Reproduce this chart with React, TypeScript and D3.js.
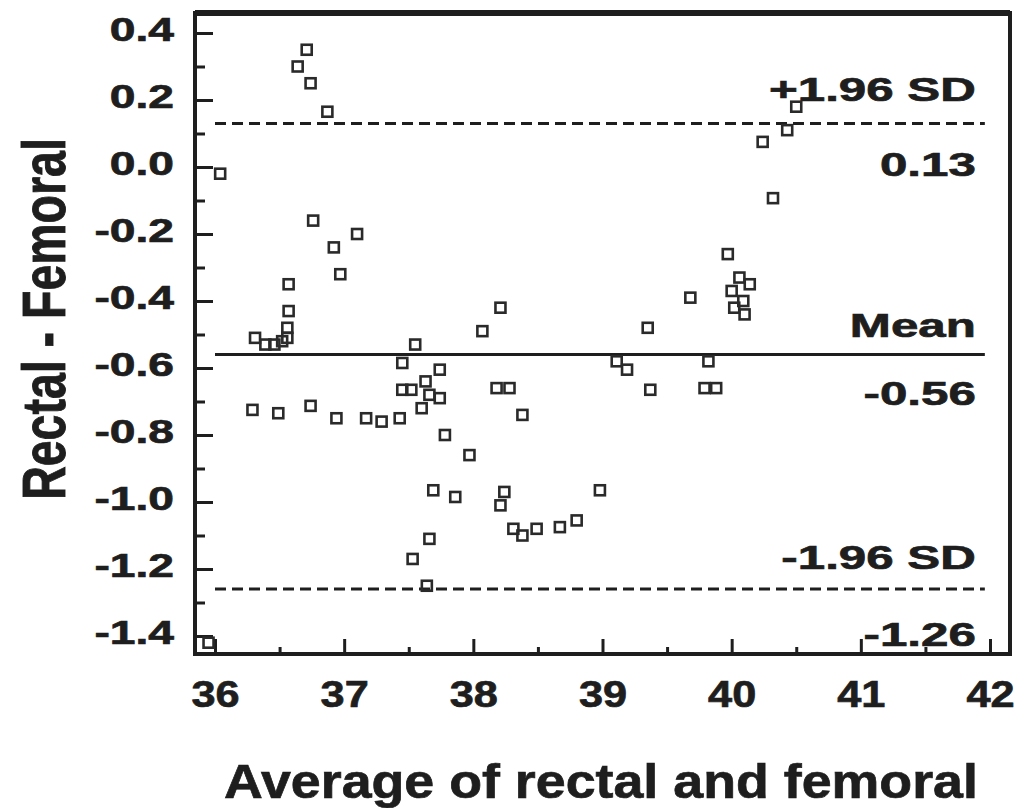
import React, { useEffect, useRef } from 'react';
import * as d3 from 'd3';

// Bland-Altman: average of rectal and femoral vs difference
const averageValues = [
  36.04, 36.71, 36.64, 36.74, 36.87, 36.76, 37.10, 36.92, 36.97, 36.57,
  36.57, 36.56, 36.56, 36.31, 36.39, 36.46, 36.52, 36.29, 36.49, 36.74,
  36.94, 37.17, 37.29, 37.43, 37.45, 37.55, 37.45, 37.52, 37.60, 37.63,
  37.66, 37.74, 37.74, 37.78, 37.97, 37.69, 37.86, 37.66, 37.53, 37.64,
  38.21, 38.07, 38.18, 38.28, 38.24, 38.21, 38.31, 38.38, 38.49, 38.67,
  38.80, 38.98, 38.38, 39.11, 39.19, 39.37, 39.35, 39.68, 39.82, 39.79,
  39.88, 39.97, 40.06, 40.14, 40.00, 40.09, 40.02, 40.10, 40.24, 40.43,
  40.50, 40.32, 35.95
];
const differenceValues = [
  -0.02, 0.35, 0.30, 0.25, 0.165, -0.16, -0.20, -0.24, -0.32, -0.35,
  -0.43, -0.48, -0.51, -0.51, -0.53, -0.53, -0.52, -0.725, -0.735, -0.713,
  -0.75, -0.75, -0.76, -0.75, -0.585, -0.53, -0.665, -0.665, -0.72, -0.64,
  -0.68, -0.605, -0.69, -0.80, -0.86, -0.965, -0.985, -1.11, -1.17, -1.25,
  -0.42, -0.49, -0.66, -0.66, -0.97, -1.01, -1.08, -1.10, -1.08, -1.075,
  -1.055, -0.965, -0.74, -0.58, -0.605, -0.665, -0.48, -0.39, -0.58, -0.66,
  -0.66, -0.26, -0.33, -0.35, -0.37, -0.40, -0.42, -0.44, 0.075, 0.11,
  0.18, -0.093, -1.42
];

const meanDiff = -0.56;
const upperLimit = 0.13;
const lowerLimit = -1.26;

const xTicks = [36, 37, 38, 39, 40, 41, 42];
const xMinorTicks = [36.5, 37.5, 38.5, 39.5, 40.5, 41.5];
const yTicks = [0.4, 0.2, 0, -0.2, -0.4, -0.6, -0.8, -1.0, -1.2, -1.4];
const yMinorTicks = [0.3, 0.1, -0.1, -0.3, -0.5, -0.7, -0.9, -1.1, -1.3];

const BlandAltman = () => {
  const svgRef = useRef(null);

  useEffect(() => {
    const svg = d3.select(svgRef.current);
    svg.selectAll('*').remove();

    const W = 1027, H = 808;
    const box = { left: 195, top: 13, right: 1010, bottom: 654 };
    const ink = '#1e1e1e';
    const font = '"Liberation Sans", Arial, sans-serif';

    const x = d3.scaleLinear().domain([36, 42]).range([215, 990]);
    const y = d3.scaleLinear().domain([-1.4, 0.4]).range([636, 33]);

    svg.attr('width', W).attr('height', H);
    svg.append('rect').attr('width', W).attr('height', H).attr('fill', '#fff');

    svg.append('defs').append('clipPath').attr('id', 'plotClip')
      .append('rect')
      .attr('x', box.left).attr('y', box.top)
      .attr('width', box.right - box.left).attr('height', box.bottom - box.top);

    const boldText = (sel, size) => sel
      .attr('fill', ink)
      .attr('stroke', ink).attr('stroke-width', 0.7)
      .style('font-family', font)
      .style('font-weight', 'bold')
      .style('font-size', size + 'px');

    // the source picture is stretched sideways, so text is widened with scaleX
    const styleAxis = (g, size, sx) => {
      g.select('.domain').remove();
      g.selectAll('line').attr('stroke', ink).attr('stroke-width', 3);
      g.selectAll('text').call(s => boldText(s, size)).each(function () {
        const t = d3.select(this);
        const tx = +t.attr('x') || 0;
        t.attr('x', 0).attr('transform', `translate(${tx},0) scale(${sx},1)`);
      });
    };

    // y axis (ticks point inward)
    svg.append('g').attr('transform', `translate(${box.left},0)`)
      .call(d3.axisLeft(y).tickValues(yTicks).tickSize(-18).tickPadding(21)
        .tickFormat(d => (+d).toFixed(1)))
      .call(g => styleAxis(g, 33, 1.4))
      .call(g => g.selectAll('text').attr('dy', '0.22em'));
    svg.append('g').attr('transform', `translate(${box.left},0)`)
      .call(d3.axisLeft(y).tickValues(yMinorTicks).tickSize(-10).tickFormat(() => ''))
      .call(g => styleAxis(g, 10, 1));

    // x axis
    svg.append('g').attr('transform', `translate(0,${box.bottom})`)
      .call(d3.axisBottom(x).tickValues(xTicks).tickSize(-15).tickPadding(27)
        .tickFormat(d => String(d)))
      .call(g => styleAxis(g, 37, 1.17));
    svg.append('g').attr('transform', `translate(0,${box.bottom})`)
      .call(d3.axisBottom(x).tickValues(xMinorTicks).tickSize(-7).tickFormat(() => ''))
      .call(g => styleAxis(g, 10, 1));

    // reference lines
    const lineEnd = x(41.96);
    const refs = [
      { v: upperLimit, dash: '11,6', top: '+1.96 SD', bottom: upperLimit.toFixed(2), up: 22, down: 53 },
      { v: meanDiff, dash: null, top: 'Mean', bottom: meanDiff.toFixed(2), up: 18, down: 50 },
      { v: lowerLimit, dash: '11,6', top: '-1.96 SD', bottom: lowerLimit.toFixed(2), up: 20, down: 57 },
    ];
    refs.forEach(r => {
      svg.append('line')
        .attr('x1', x(36)).attr('x2', lineEnd)
        .attr('y1', y(r.v)).attr('y2', y(r.v))
        .attr('stroke', ink).attr('stroke-width', 3)
        .attr('stroke-dasharray', r.dash);
      [[r.top, y(r.v) - r.up], [r.bottom, y(r.v) + r.down]].forEach(([t, ty]) => {
        svg.append('text')
          .attr('transform', `translate(${lineEnd - 9},${ty}) scale(1.45,1)`)
          .attr('text-anchor', 'end')
          .call(s => boldText(s, 34))
          .text(t);
      });
    });

    // points
    const pts = averageValues.map((a, i) => ({ a, d: differenceValues[i] }));
    svg.append('g').attr('clip-path', 'url(#plotClip)')
      .selectAll('rect').data(pts).enter().append('rect')
      .attr('x', p => x(p.a) - 5).attr('y', p => y(p.d) - 5)
      .attr('width', 10).attr('height', 10)
      .attr('fill', 'none').attr('stroke', '#2a2a2a').attr('stroke-width', 2.6);

    // frame
    svg.append('rect')
      .attr('x', box.left).attr('y', box.top)
      .attr('width', box.right - box.left).attr('height', box.bottom - box.top)
      .attr('fill', 'none').attr('stroke', ink).attr('stroke-width', 4);
    svg.append('line')
      .attr('x1', box.left).attr('x2', box.right)
      .attr('y1', box.top).attr('y2', box.top)
      .attr('stroke', ink).attr('stroke-width', 6);

    // axis titles
    svg.append('text')
      .attr('transform', `translate(601,798) scale(1.12,1)`)
      .attr('text-anchor', 'middle')
      .call(s => boldText(s, 48))
      .text('Average of rectal and femoral');
    svg.append('text')
      .attr('transform', `translate(65,319) rotate(-90) scale(1,1.3)`)
      .attr('text-anchor', 'middle')
      .call(s => boldText(s, 46.5))
      .text('Rectal - Femoral');
  }, []);

  return <svg ref={svgRef} style={{ position: 'absolute', left: 0, top: 0, display: 'block' }}></svg>;
};

export default function App() {
  return <BlandAltman />;
}
